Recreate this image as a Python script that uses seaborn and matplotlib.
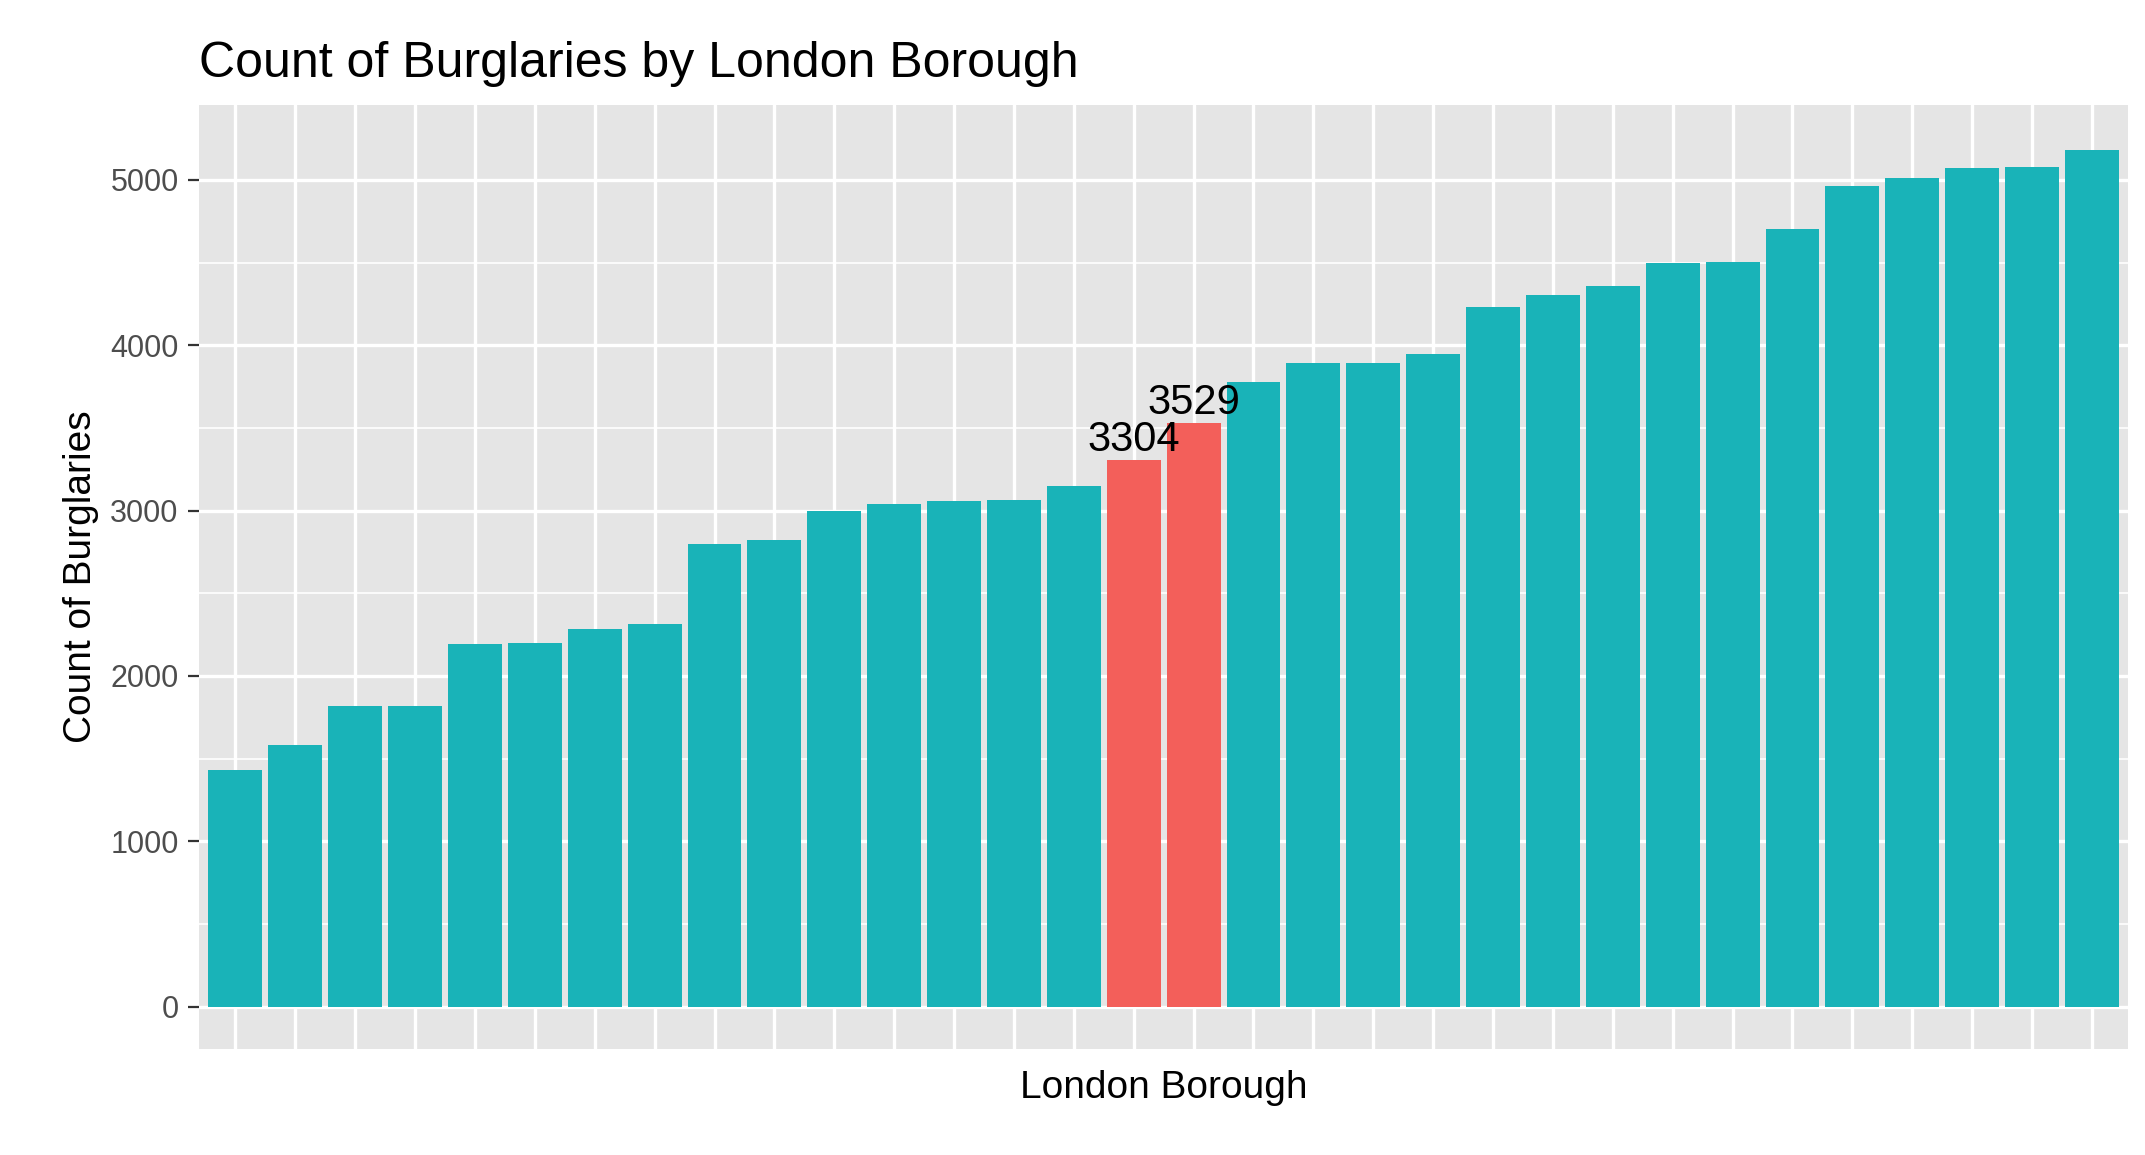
import matplotlib
matplotlib.use("Agg")
import matplotlib.pyplot as plt
import seaborn as sns
import pandas as pd
import numpy as np

values = [1430, 1580, 1815, 1820, 2190, 2200, 2285, 2315, 2800, 2820, 3000, 3040,
          3055, 3065, 3150, 3304, 3529, 3780, 3890, 3890, 3945, 4230, 4305, 4360,
          4495, 4505, 4700, 4960, 5010, 5070, 5080, 5180]
boroughs = [f"B{i:02d}" for i in range(len(values))]
highlight = [v in (3304, 3529) for v in values]
labels = {3304: "3304", 3529: "3529"}

df = pd.DataFrame({"borough": boroughs, "count": values,
                   "grp": ["hi" if h else "lo" for h in highlight]})

sns.set_style("darkgrid", {"axes.facecolor": "#E5E5E5", "grid.color": "white"})
plt.rcParams['font.family'] = ['Liberation Sans', 'DejaVu Sans']

fig = plt.figure(figsize=(10.725, 5.775), dpi=200)
ax = fig.add_axes([0.093, 0.092, 0.899, 0.817])
sns.barplot(data=df, x="borough", y="count", hue="grp",
            palette={"hi": "#F35F5A", "lo": "#19B3B8"}, width=0.9,
            dodge=False, legend=False, ax=ax, saturation=1, linewidth=0, edgecolor="none")
for i, v in enumerate(values):
    if v in labels:
        ax.text(i, v, labels[v], ha="center", va="bottom", fontsize=15, color="black")

ax.set_xlim(-0.6, len(values) - 0.4)
ax.set_ylim(-255, 5452)
ax.set_yticks([0, 1000, 2000, 3000, 4000, 5000])
ax.set_yticks(np.arange(500, 5500, 1000), minor=True)
ax.grid(which="major", color="white", linewidth=1.2)
ax.grid(which="minor", axis="y", color="white", linewidth=0.6)
ax.set_axisbelow(True)
ax.set_xticks(range(len(values)))
ax.set_xticklabels([])
ax.tick_params(axis="x", length=0)
ax.tick_params(axis="y", which="major", length=4, color="#333333", labelsize=11, labelcolor="#4D4D4D", left=True)
ax.tick_params(axis="y", which="minor", length=0)
for s in ax.spines.values():
    s.set_visible(False)
ax.set_xlabel("London Borough", fontsize=14, color="black")
ax.set_ylabel("Count of Burglaries", fontsize=14, color="black")
ax.set_title("Count of Burglaries by London Borough", fontsize=18, loc="left", x=0.0, pad=10, color="black")
fig.savefig("out.png", dpi=200)
